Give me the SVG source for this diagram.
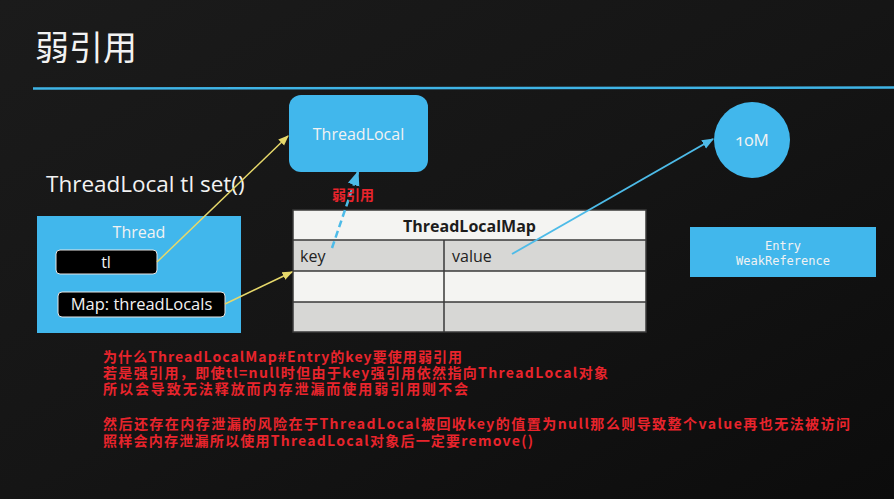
<svg xmlns="http://www.w3.org/2000/svg" width="894" height="499" viewBox="0 0 894 499">
  <defs>
    <linearGradient id="board" x1="0" y1="0" x2="1" y2="1">
      <stop offset="0" stop-color="#1b1b1b"/>
      <stop offset="0.5" stop-color="#151515"/>
      <stop offset="1" stop-color="#0c0c0c"/>
    </linearGradient>
    <marker id="arrowYellow" viewBox="0 0 10 10" refX="9" refY="5" markerWidth="7" markerHeight="7" orient="auto">
      <path d="M0,1 L10,5 L0,9 Z" fill="#e6d86a"/>
    </marker>
    <marker id="arrowBlue" viewBox="0 0 10 10" refX="9" refY="5" markerWidth="6" markerHeight="6" orient="auto">
      <path d="M0,1 L10,5 L0,9 Z" fill="#4dbbe8"/>
    </marker>
    <style>
      .white { fill: #f2f2f2; font-family: "Open Sans", "Noto Sans", "Liberation Sans", sans-serif; }
      .blue { fill: #41b7ec; }
      .slot { fill: #000; stroke: #e6e6e6; stroke-width: 1; }
      .cell-hi { fill: #f4f4f2; }
      .cell-lo { fill: #d7d7d5; }
      .grid { stroke: #3a3a3a; stroke-width: 1.5; fill: none; }
      .mono { fill: #f2f2f2; font-family: "DejaVu Sans Mono", "Liberation Mono", monospace; font-size: 12px; }
      .note { fill: #e8242c; font-family: "Noto Sans CJK SC", "Noto Sans", sans-serif; font-size: 14px; font-weight: bold; }
      .cell-text { fill: #222; font-family: "Open Sans", "Noto Sans", "Liberation Sans", sans-serif; font-size: 16px; }
    </style>
  </defs>

  <!-- chalkboard background -->
  <rect x="0" y="0" width="894" height="499" fill="url(#board)"/>

  <!-- title and underline -->
  <text x="35" y="60" style="fill:#f2f2f2;font-family:'Noto Sans CJK SC',sans-serif;font-size:34px">弱引用</text>
  <line x1="33" y1="88.5" x2="894" y2="87.5" stroke="#3fb4e6" stroke-width="2.5"/>

  <text x="46" y="192" class="white" font-size="22.5">ThreadLocal tl set()</text>

  <!-- ThreadLocal object -->
  <g id="threadlocal">
    <rect x="289" y="95" width="139" height="77" rx="12" class="blue"/>
    <text x="358.5" y="140" class="white" font-size="16" text-anchor="middle">ThreadLocal</text>
  </g>

  <!-- value object -->
  <g id="value10m">
    <circle cx="752" cy="140" r="38" class="blue"/>
    <text x="752" y="146" class="white" font-size="17" text-anchor="middle" style="font-feature-settings:'onum'">10M</text>
  </g>

  <!-- Entry legend -->
  <g id="entry">
    <rect x="690" y="227" width="186" height="50" class="blue"/>
    <text x="783" y="250" class="mono" text-anchor="middle">Entry</text>
    <text x="783" y="265" class="mono" text-anchor="middle">WeakReference</text>
  </g>

  <!-- Thread -->
  <g id="thread">
    <rect x="37" y="216" width="204" height="117" class="blue"/>
    <text x="139" y="238" class="white" font-size="16" text-anchor="middle">Thread</text>
    <rect x="56" y="250" width="101" height="24" rx="4" class="slot"/>
    <text x="106" y="268" class="white" font-size="16" text-anchor="middle">tl</text>
    <rect x="58" y="292" width="167" height="25" rx="4" class="slot"/>
    <text x="141.5" y="310" class="white" font-size="16.5" text-anchor="middle">Map: threadLocals</text>
  </g>

  <!-- ThreadLocalMap table -->
  <g id="threadlocalmap">
    <rect x="293" y="210" width="353" height="30" class="cell-hi"/>
    <rect x="293" y="240" width="353" height="31" class="cell-lo"/>
    <rect x="293" y="271" width="353" height="31" class="cell-hi"/>
    <rect x="293" y="302" width="353" height="30" class="cell-lo"/>
    <path class="grid" d="M293,210 H646 V332 H293 Z M293,240 H646 M293,271 H646 M293,302 H646 M444,240 V332"/>
    <text x="469.5" y="232" text-anchor="middle" style="fill:#1c1c1c;font-family:'Open Sans','Noto Sans',sans-serif;font-size:16px;font-weight:bold">ThreadLocalMap</text>
    <text x="300" y="262" class="cell-text">key</text>
    <text x="452" y="262" class="cell-text">value</text>
  </g>

  <!-- connectors, drawn over the nodes -->
  <g id="connectors">
    <line x1="157" y1="262" x2="288" y2="136" stroke="#e6d86a" stroke-width="1.5" marker-end="url(#arrowYellow)"/>
    <line x1="225" y1="304" x2="292" y2="272" stroke="#e6d86a" stroke-width="1.5" marker-end="url(#arrowYellow)"/>
    <line x1="332" y1="248" x2="358" y2="172" stroke="#4dbbe8" stroke-width="2.5" stroke-dasharray="7,4" marker-end="url(#arrowBlue)"/>
    <line x1="512" y1="254" x2="713" y2="139" stroke="#4dbbe8" stroke-width="2" marker-end="url(#arrowBlue)"/>
  </g>

  <text x="353" y="200" class="note" font-size="13" text-anchor="middle">弱引用</text>

  <!-- explanation notes -->
  <g id="notes">
    <text x="103" y="362" class="note" textLength="359" lengthAdjust="spacing">为什么ThreadLocalMap#Entry的key要使用弱引用</text>
    <text x="103" y="378" class="note" textLength="505" lengthAdjust="spacing">若是强引用，即使tl=null时但由于key强引用依然指向ThreadLocal对象</text>
    <text x="103" y="394" class="note" textLength="365" lengthAdjust="spacing">所以会导致无法释放而内存泄漏而使用弱引用则不会</text>
    <text x="103" y="429" class="note" textLength="747" lengthAdjust="spacing">然后还存在内存泄漏的风险在于ThreadLocal被回收key的值置为null那么则导致整个value再也无法被访问</text>
    <text x="103" y="446" class="note" textLength="430" lengthAdjust="spacing">照样会内存泄漏所以使用ThreadLocal对象后一定要remove()</text>
  </g>
</svg>
